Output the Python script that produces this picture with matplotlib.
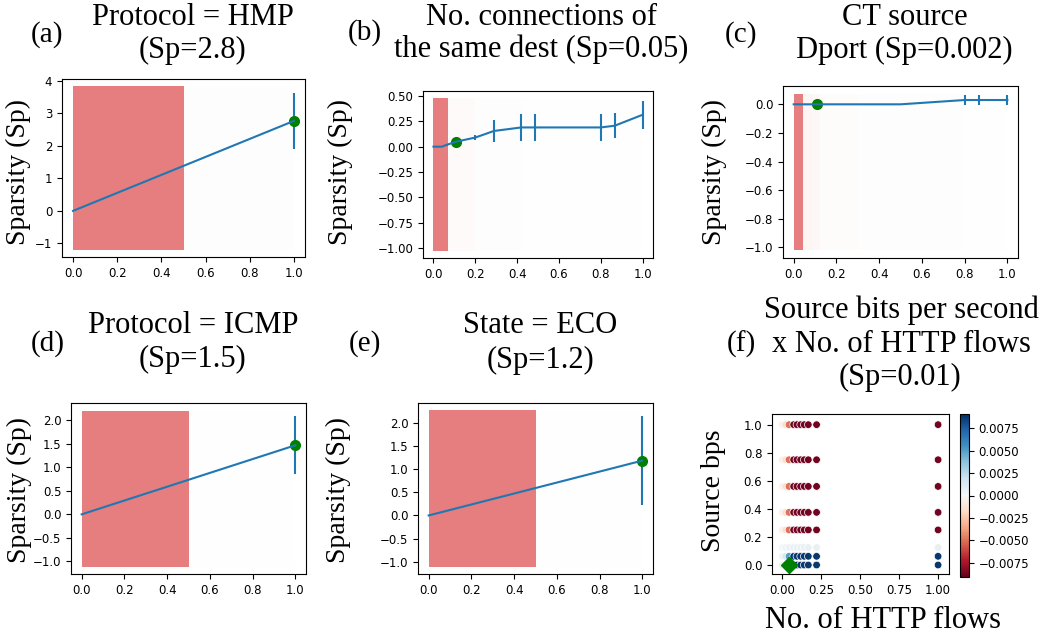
import matplotlib.pyplot as plt
import numpy as np

plt.rcParams['font.family'] = 'DejaVu Sans'
plt.rcParams['xtick.labelsize'] = 8.5
plt.rcParams['ytick.labelsize'] = 8.5
SERIF = 'Liberation Serif'

W, H = 1044, 636

# (a) Protocol = HMP
a_x = [0.0, 1.0]
a_y = [0.0, 2.77]
a_err = [0.0, 0.87]
a_edges = [0.0, 0.5, 1.0]
a_dens = [1.0, 0.01]
a_span = (-1.2, 3.83)
a_mark = (1.0, 2.77)
a_ylim = (-1.42, 4.06)
a_yticks = [-1, 0, 1, 2, 3, 4]

# (b) No. connections of the same dest
b_x = [0.0, 0.04, 0.066, 0.11, 0.2, 0.289, 0.42, 0.487, 0.8, 0.867, 1.0]
b_y = [0.0, 0.0, 0.02, 0.05, 0.09, 0.155, 0.19, 0.19, 0.19, 0.207, 0.315]
b_err = [0.0, 0.0, 0.01, 0.0, 0.025, 0.105, 0.135, 0.135, 0.135, 0.125, 0.14]
b_edges = [0.0, 0.07, 0.2, 0.29, 0.42, 0.49, 0.8, 0.87, 1.0]
b_dens = [1.0, 0.03, 0.015, 0.012, 0.008, 0.006, 0.006, 0.005]
b_span = (-1.03, 0.48)
b_mark = (0.11, 0.05)
b_ylim = (-1.10, 0.55)
b_yticks = [-1.0, -0.75, -0.5, -0.25, 0.0, 0.25, 0.5]

# (c) CT source Dport
c_x = [0.0, 0.045, 0.07, 0.125, 0.5, 0.8, 0.867, 1.0]
c_y = [0.0, 0.0, 0.0, 0.0, 0.0, 0.03, 0.03, 0.03]
c_err = [0.0, 0.0, 0.005, 0.0, 0.0, 0.032, 0.032, 0.032]
c_edges = [0.0, 0.045, 0.085, 0.125, 0.3, 0.5, 0.8, 0.87, 1.0]
c_dens = [1.0, 0.08, 0.06, 0.025, 0.015, 0.012, 0.008, 0.006]
c_span = (-1.016, 0.072)
c_mark = (0.11, 0.0)
c_ylim = (-1.074, 0.128)
c_yticks = [-1.0, -0.8, -0.6, -0.4, -0.2, 0.0]

# (d) Protocol = ICMP
d_x = [0.0, 1.0]
d_y = [0.0, 1.47]
d_err = [0.0, 0.62]
d_edges = [0.0, 0.5, 1.0]
d_dens = [1.0, 0.008]
d_span = (-1.12, 2.21)
d_mark = (1.0, 1.47)
d_ylim = (-1.27, 2.37)
d_yticks = [-1.0, -0.5, 0.0, 0.5, 1.0, 1.5, 2.0]

# (e) State = ECO
e_x = [0.0, 1.0]
e_y = [0.0, 1.18]
e_err = [0.0, 0.95]
e_edges = [0.0, 0.5, 1.0]
e_dens = [1.0, 0.008]
e_span = (-1.11, 2.26)
e_mark = (1.0, 1.18)
e_ylim = (-1.26, 2.42)
e_yticks = [-1.0, -0.5, 0.0, 0.5, 1.0, 1.5, 2.0]

# (f) Source bps x No. of HTTP flows
f_flows = [0.0, 0.021, 0.043, 0.073, 0.094, 0.118, 0.141, 0.167, 0.22, 1.0]
f_bps = [0.0, 0.062, 0.125, 0.25, 0.375, 0.56, 0.75, 1.0]
f_vals = [
    [0.0004, 0.0015, 0.005, 0.0088, 0.0088, 0.0088, 0.0088, 0.0088, 0.0088, 0.0088],
    [0.0004, 0.0015, 0.005, 0.0088, 0.0088, 0.0088, 0.0088, 0.0088, 0.0088, 0.0088],
    [0.0001, 0.0003, 0.0005, 0.0007, 0.0007, 0.0007, 0.0007, 0.0007, 0.0007, 0.0007],
    [-0.0004, -0.0015, -0.005, -0.0088, -0.0088, -0.0088, -0.0088, -0.0088, -0.0088, -0.0088],
    [-0.0004, -0.0015, -0.005, -0.0088, -0.0088, -0.0088, -0.0088, -0.0088, -0.0088, -0.0088],
    [-0.0004, -0.0015, -0.005, -0.0088, -0.0088, -0.0088, -0.0088, -0.0088, -0.0088, -0.0088],
    [-0.0004, -0.0015, -0.005, -0.0088, -0.0088, -0.0088, -0.0088, -0.0088, -0.0088, -0.0088],
    [-0.0004, -0.0015, -0.005, -0.0088, -0.0088, -0.0088, -0.0088, -0.0088, -0.0088, -0.0088],
]
f_mark = (0.043, 0.0)
f_cticks = [-0.0075, -0.005, -0.0025, 0.0, 0.0025, 0.005, 0.0075]


def px_axes(fig, left, right, top, bottom):
    return fig.add_axes([left / W, 1 - bottom / H, (right - left) / W, (bottom - top) / H])


def ftext(fig, x, y, s, size, **kw):
    fig.text(x / W, 1 - y / H, s, fontsize=size, family=SERIF, **kw)


def draw_ale(ax, x, y, err, edges, dens, span, mark, ylim, yticks):
    edges = np.array(edges)
    cols = [(0.839, 0.153, 0.157, 0.6 * d) for d in dens]
    ax.bar(edges[:-1], span[1] - span[0], width=np.diff(edges), bottom=span[0],
           align='edge', color=cols)
    ax.errorbar(x, y, yerr=err, color='tab:blue', linewidth=1.5, elinewidth=1.5)
    ax.plot(mark[0], mark[1], 'o', color='green', markersize=7)
    ax.set_xlim(-0.05, 1.05)
    ax.set_ylim(*ylim)
    ax.set_xticks([0.0, 0.2, 0.4, 0.6, 0.8, 1.0])
    ax.set_yticks(yticks)


fig = plt.figure(figsize=(10.44, 6.36), dpi=100)

ax_a = px_axes(fig, 62, 305, 79, 257)
draw_ale(ax_a, a_x, a_y, a_err, a_edges, a_dens, a_span, a_mark, a_ylim, a_yticks)
ax_b = px_axes(fig, 423, 653, 91, 258)
draw_ale(ax_b, b_x, b_y, b_err, b_edges, b_dens, b_span, b_mark, b_ylim, b_yticks)
ax_c = px_axes(fig, 783, 1018, 86, 258)
draw_ale(ax_c, c_x, c_y, c_err, c_edges, c_dens, c_span, c_mark, c_ylim, c_yticks)
ax_d = px_axes(fig, 71, 306, 403, 574)
draw_ale(ax_d, d_x, d_y, d_err, d_edges, d_dens, d_span, d_mark, d_ylim, d_yticks)
ax_e = px_axes(fig, 418, 653, 403, 574)
draw_ale(ax_e, e_x, e_y, e_err, e_edges, e_dens, e_span, e_mark, e_ylim, e_yticks)

# scatter panel
ax_f = px_axes(fig, 772, 949, 414, 574)
gx, gy = np.meshgrid(f_flows, f_bps)
sc = ax_f.scatter(gx.ravel(), gy.ravel(), c=np.array(f_vals).ravel(), cmap='RdBu',
                  vmin=-0.0091, vmax=0.0091, s=30, edgecolors='white', linewidths=0.5)
ax_f.plot(f_mark[0], f_mark[1], 'D', color='green', markersize=8)
ax_f.set_xlim(-0.066, 1.07)
ax_f.set_ylim(-0.064, 1.076)
ax_f.set_xticks([0.0, 0.25, 0.5, 0.75, 1.0])
cax = px_axes(fig, 960, 969, 414, 577)
cb = fig.colorbar(sc, cax=cax, ticks=f_cticks)
cb.ax.tick_params(labelsize=8.5)

# titles
ftext(fig, 193, 25, 'Protocol = HMP', 22, ha='center', va='baseline')
ftext(fig, 193, 58, '(Sp=2.8)', 22, ha='center', va='baseline')
ftext(fig, 541, 25, 'No. connections of', 22, ha='center', va='baseline')
ftext(fig, 541, 57, 'the same dest (Sp=0.05)', 22, ha='center', va='baseline')
ftext(fig, 905, 25, 'CT source', 22, ha='center', va='baseline')
ftext(fig, 904, 58, 'Dport (Sp=0.002)', 22, ha='center', va='baseline')
ftext(fig, 193, 333, 'Protocol = ICMP', 22, ha='center', va='baseline')
ftext(fig, 193, 367, '(Sp=1.5)', 22, ha='center', va='baseline')
ftext(fig, 540, 333, 'State = ECO', 22, ha='center', va='baseline')
ftext(fig, 540, 368, '(Sp=1.2)', 22, ha='center', va='baseline')
ftext(fig, 901, 318, 'Source bits per second', 22, ha='center', va='baseline')
ftext(fig, 901, 352, 'x No. of HTTP flows', 22, ha='center', va='baseline')
ftext(fig, 900, 385, '(Sp=0.01)', 22, ha='center', va='baseline')

# panel letters
for lab, x, y in [('(a)', 47, 35), ('(b)', 365, 33), ('(c)', 741, 35),
                  ('(d)', 48, 344), ('(e)', 365, 344), ('(f)', 741, 344)]:
    ftext(fig, x, y, lab, 21, ha='center', va='center')

# axis labels
for x, y in [(18, 172), (340, 172), (714, 172), (19, 490), (338, 490)]:
    ftext(fig, x, y, 'Sparsity (Sp)', 20, rotation=90, ha='center', va='center')
ftext(fig, 714, 491, 'Source bps', 20, rotation=90, ha='center', va='center')
ftext(fig, 883, 620, 'No. of HTTP flows', 22, ha='center', va='center')

fig.savefig('out.png', dpi=100)
